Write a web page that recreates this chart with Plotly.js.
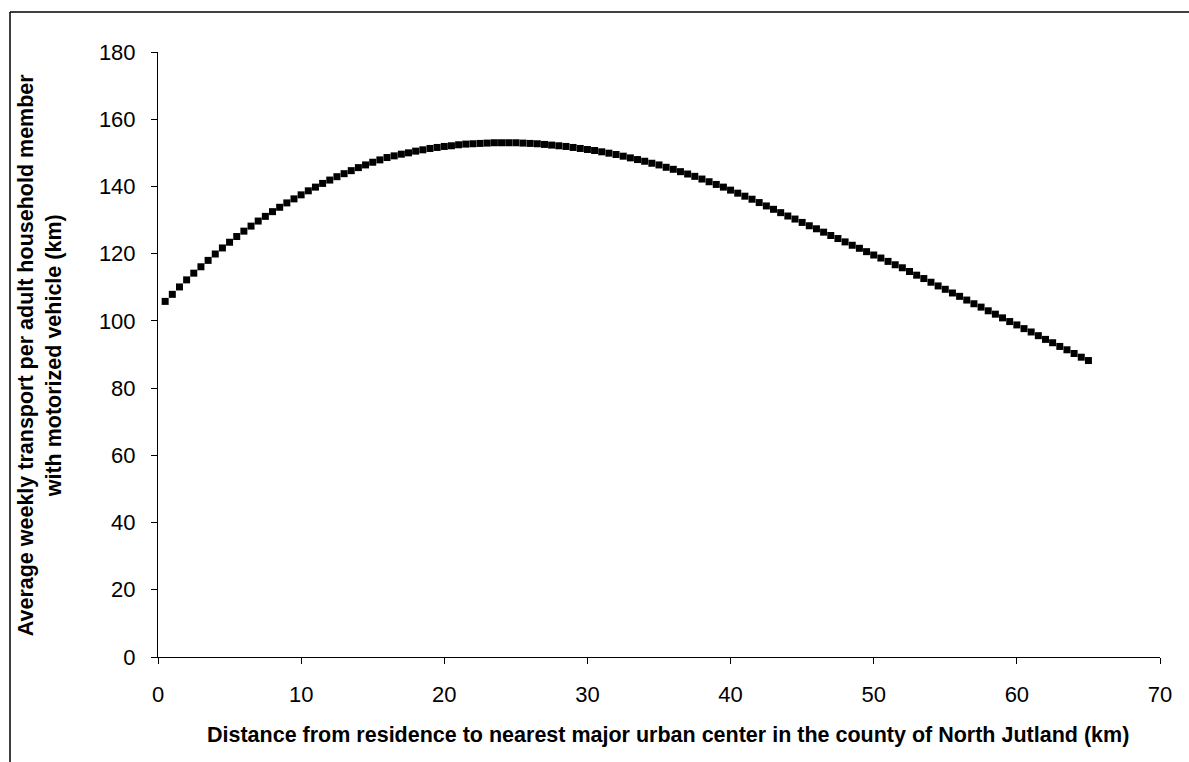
<!DOCTYPE html>
<html>
<head>
<meta charset="utf-8">
<script src="https://cdn.plot.ly/plotly-3.0.1.min.js"></script>
<style>
html,body{margin:0;padding:0;background:#fff;}
#chart{width:1189px;height:762px;}
</style>
</head>
<body>
<div id="chart"></div>
<script>
// Distance from residence (km), 0.5 km steps
const distanceKm = [
  0.5,1,1.5,2,2.5,3,3.5,4,4.5,5,5.5,6,6.5,7,7.5,8,8.5,9,9.5,10,
  10.5,11,11.5,12,12.5,13,13.5,14,14.5,15,15.5,16,16.5,17,17.5,18,18.5,19,19.5,20,
  20.5,21,21.5,22,22.5,23,23.5,24,24.5,25,25.5,26,26.5,27,27.5,28,28.5,29,29.5,30,
  30.5,31,31.5,32,32.5,33,33.5,34,34.5,35,35.5,36,36.5,37,37.5,38,38.5,39,39.5,40,
  40.5,41,41.5,42,42.5,43,43.5,44,44.5,45,45.5,46,46.5,47,47.5,48,48.5,49,49.5,50,
  50.5,51,51.5,52,52.5,53,53.5,54,54.5,55,55.5,56,56.5,57,57.5,58,58.5,59,59.5,60,
  60.5,61,61.5,62,62.5,63,63.5,64,64.5,65
];
// Average weekly transport per adult household member (km)
const weeklyTransport = [
  105.8,107.9,110.1,112.2,114.2,116.1,118.0,119.9,121.7,123.4,125.1,126.7,128.2,129.7,131.1,132.5,133.8,135.1,136.3,137.5,
  138.7,139.8,140.9,141.9,142.9,143.8,144.7,145.6,146.4,147.2,147.9,148.6,149.1,149.6,150.0,150.5,150.9,151.3,151.6,151.9,
  152.1,152.4,152.6,152.7,152.8,152.9,153.0,153.0,153.0,153.0,152.9,152.8,152.7,152.5,152.3,152.1,151.9,151.6,151.3,151.0,
  150.7,150.3,149.9,149.5,149.0,148.5,148.0,147.5,146.9,146.4,145.7,145.1,144.4,143.7,143.0,142.2,141.4,140.6,139.8,138.9,
  138.0,137.1,136.2,135.2,134.2,133.2,132.2,131.2,130.3,129.3,128.3,127.4,126.4,125.4,124.5,123.5,122.5,121.6,120.6,119.6,
  118.7,117.7,116.7,115.8,114.7,113.6,112.6,111.5,110.4,109.4,108.3,107.3,106.2,105.1,104.1,103.0,102.0,100.9,99.8,98.8,
  97.7,96.7,95.6,94.5,93.5,92.4,91.4,90.3,89.2,88.2
];
const xTitle = "Distance from residence to nearest major urban center in the county of North Jutland (km)";
const yTitle = "Average weekly transport per adult household member<br>with motorized vehicle (km)";

const FONT = "Liberation Sans, Arial, sans-serif";

const trace = {
  x: distanceKm,
  y: weeklyTransport,
  type: "scatter",
  mode: "markers",
  marker: {symbol: "square", size: 7, color: "#000000", line: {width: 0}},
  hoverinfo: "x+y",
  showlegend: false
};

const layout = {
  width: 1189,
  height: 762,
  paper_bgcolor: "#ffffff",
  plot_bgcolor: "#ffffff",
  margin: {l: 158, r: 29, t: 52, b: 105, pad: 0},
  font: {family: FONT, color: "#000000", size: 22},
  showlegend: false,
  xaxis: {
    range: [0, 70],
    dtick: 10,
    tick0: 0,
    showgrid: false,
    zeroline: false,
    showline: true,
    linecolor: "#000000",
    linewidth: 1,
    ticks: "outside",
    ticklen: 6,
    tickwidth: 1,
    tickcolor: "#000000",
    ticklabelstandoff: 12,
    tickfont: {family: FONT, size: 22, color: "#000000"},
    fixedrange: true
  },
  yaxis: {
    range: [0, 180],
    dtick: 20,
    tick0: 0,
    showgrid: false,
    zeroline: false,
    showline: true,
    linecolor: "#000000",
    linewidth: 1,
    ticks: "outside",
    ticklen: 6,
    tickwidth: 1,
    tickcolor: "#000000",
    ticklabelstandoff: 11,
    tickfont: {family: FONT, size: 22, color: "#000000"},
    fixedrange: true
  },
  annotations: [
    {
      text: "<b>" + xTitle + "</b>",
      xref: "paper", yref: "paper",
      x: 0.509, y: -0.129,
      xanchor: "center", yanchor: "middle",
      showarrow: false,
      font: {family: FONT, size: 21.5, color: "#000000"}
    },
    {
      text: "<b>" + yTitle + "</b>",
      xref: "paper", yref: "paper",
      x: -0.118, y: 0.5,
      xanchor: "center", yanchor: "middle",
      textangle: -90,
      showarrow: false,
      font: {family: FONT, size: 21.5, color: "#000000"}
    }
  ],
  shapes: [
    {type: "line", xref: "paper", yref: "paper", x0: -0.1477, x1: -0.1477, y0: -0.25, y1: 1.0661,
     line: {color: "#000000", width: 1.5}},
    {type: "line", xref: "paper", yref: "paper", x0: -0.1477, x1: 1.1, y0: 1.0661, y1: 1.0661,
     line: {color: "#000000", width: 1.5}}
  ]
};

Plotly.newPlot("chart", [trace], layout, {displayModeBar: false, staticPlot: true});
</script>
</body>
</html>
